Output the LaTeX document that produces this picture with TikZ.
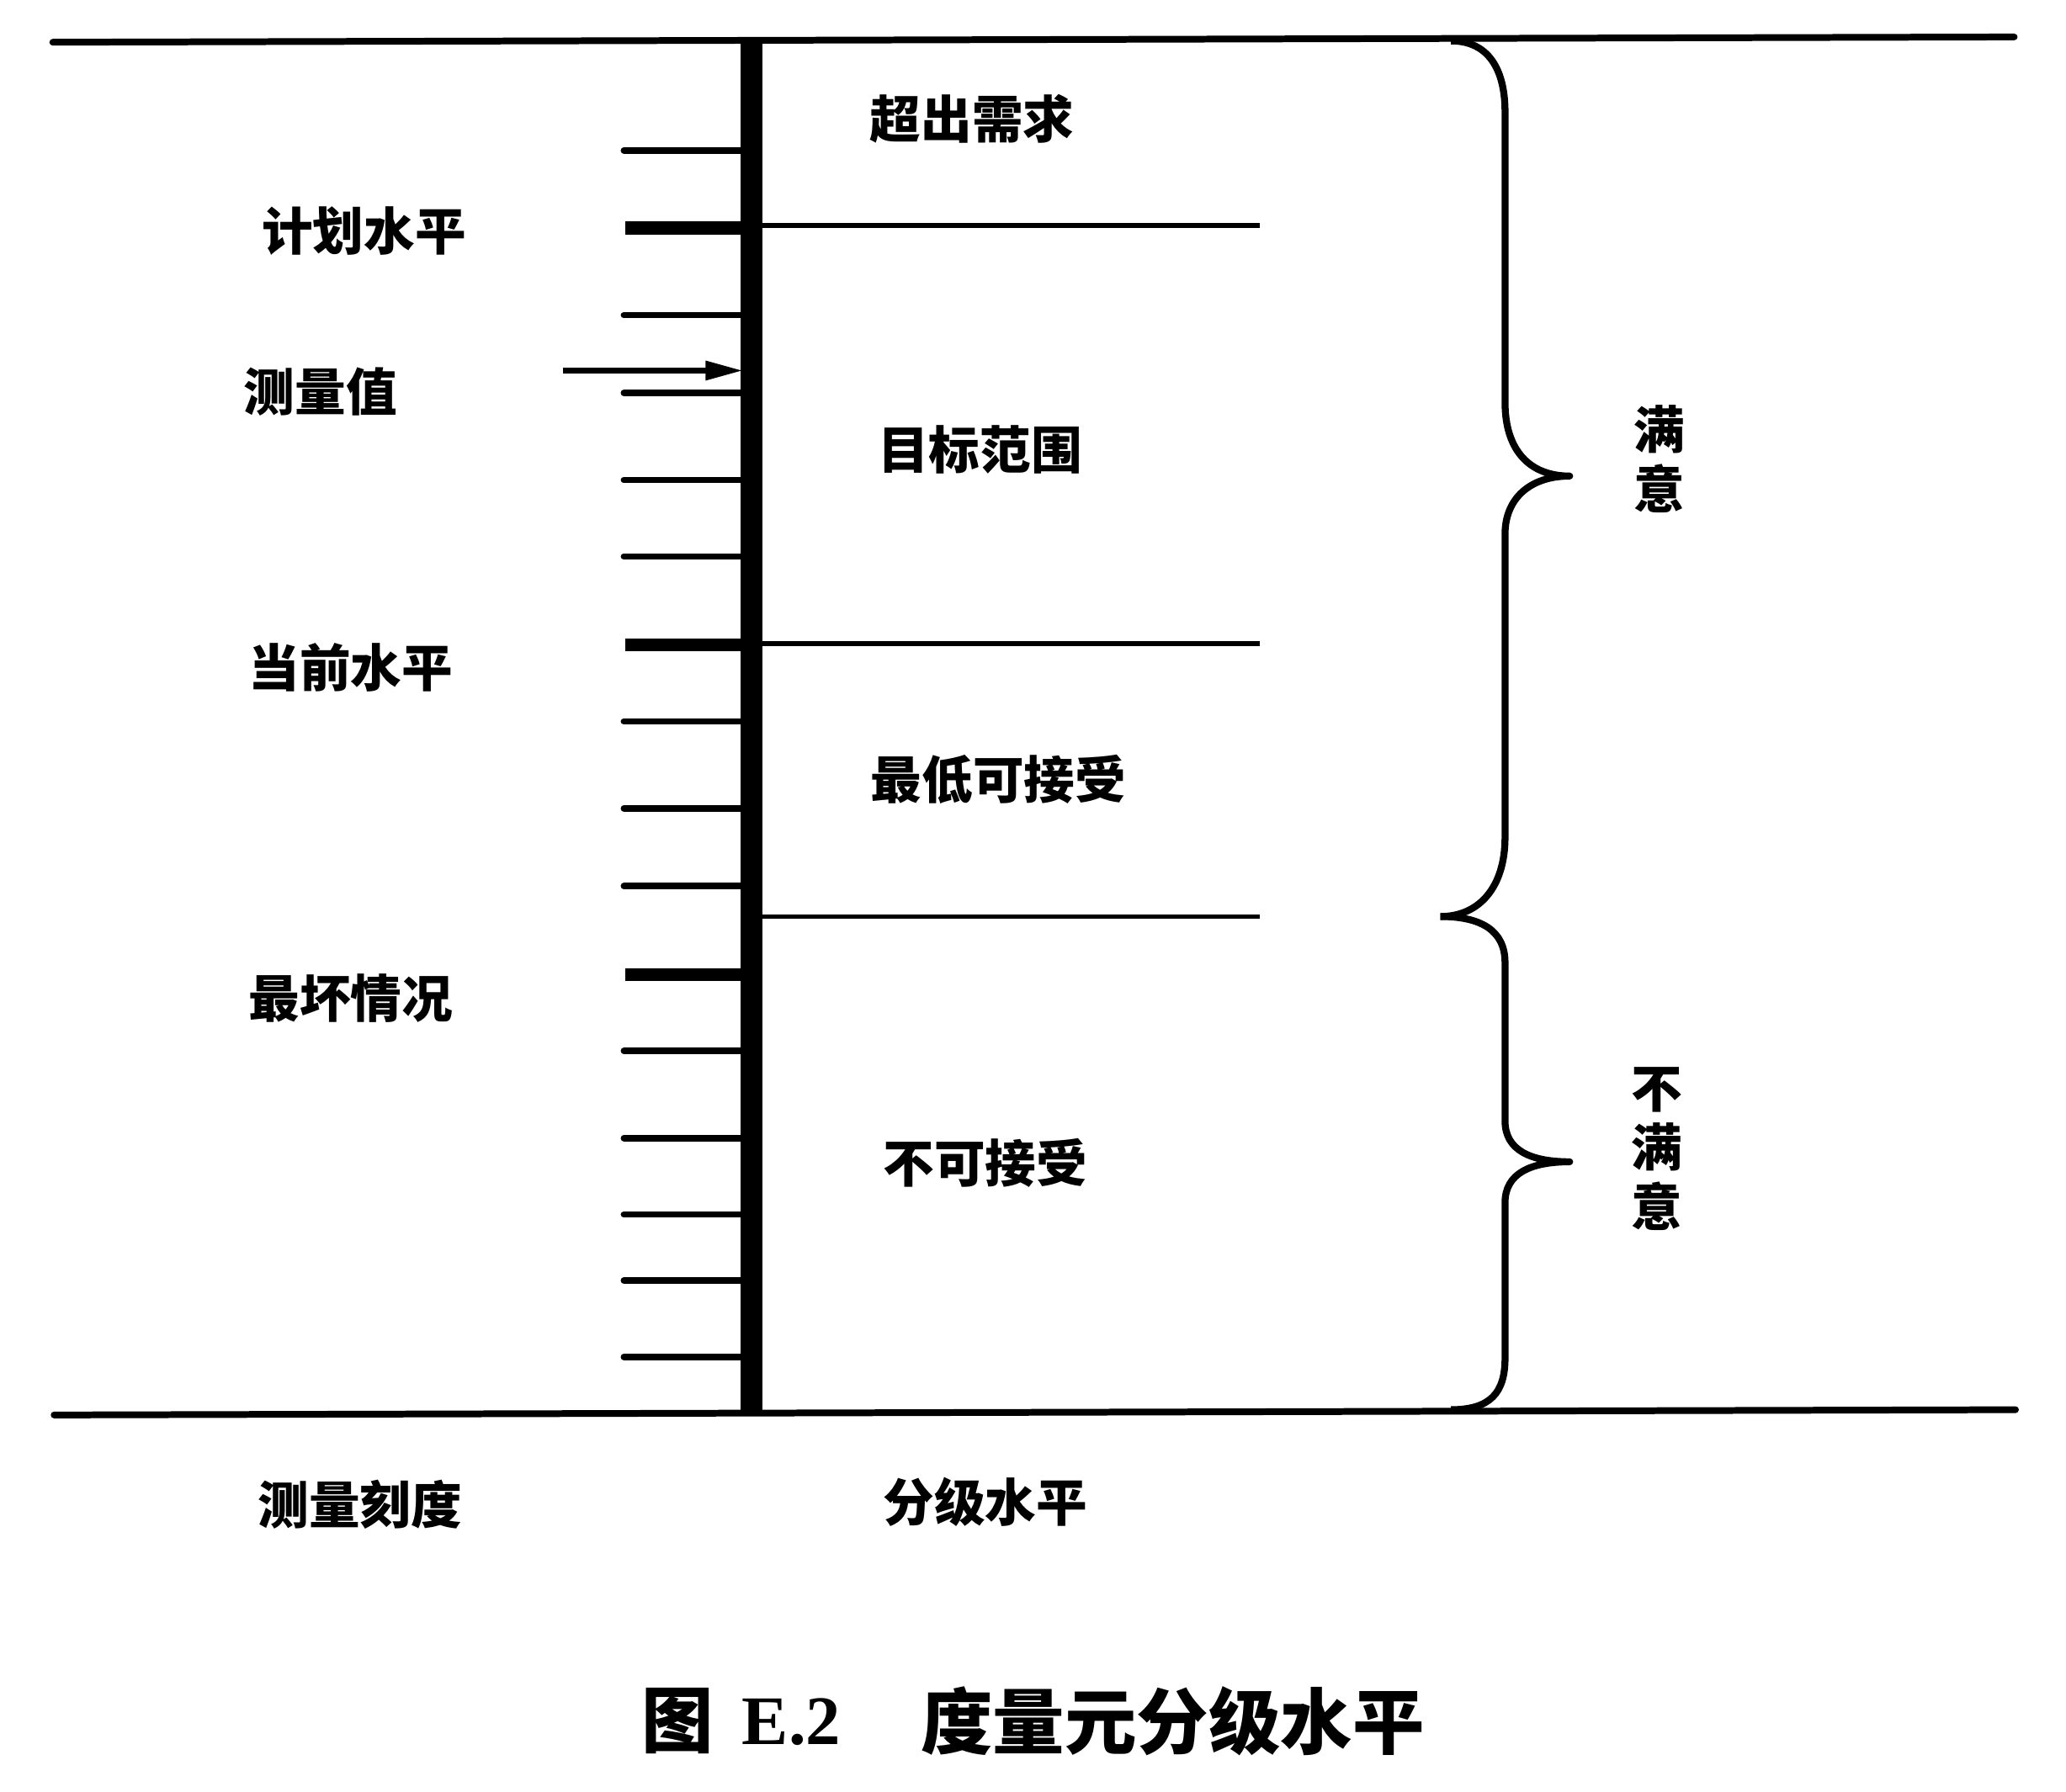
\documentclass[tikz,border=0pt]{standalone}
\usepackage{fontspec}
\setmainfont{Liberation Serif}
\newfontfamily\cjk{Noto Sans CJK SC}
\usetikzlibrary{arrows.meta}
\begin{document}
\begin{tikzpicture}[x=0.01cm,y=-0.01cm,
  lab/.style={font=\cjk\bfseries\fontsize{11}{12.8}\selectfont, inner sep=0pt, align=center},
  caplab/.style={font=\cjk\bfseries\fontsize{15.5}{18}\selectfont, inner sep=0pt},
  captxt/.style={font=\bfseries\fontsize{15}{18}\selectfont, inner sep=0pt},
  minortick/.style={line width=1.4pt, line cap=round},
  majortick/.style={line width=2.8pt},
  rulestyle/.style={line width=1.45pt, line cap=round},
  levelline/.style={line width=1pt},
  barstyle/.style={line width=4.7pt},
  bracestyle/.style={line width=1.5pt, line join=round},
  arrowstyle/.style={line width=1.1pt, -{Triangle[length=8pt,width=4pt]}}]
\useasboundingbox (0,0) rectangle (1566.3,1358.4);

% top and bottom rules
\draw[rulestyle] (40,32) coordinate (tl) -- (1527,28) coordinate (tr);
\draw[rulestyle] (41,1073) coordinate (bl) -- (1528,1069) coordinate (br);

% minor ticks
\foreach \y in {114,239,298,364,422,547,613,672,797,863,921,971,1029}
  \draw[minortick] (473,\y) -- (566,\y);
% major ticks
\foreach \y in {173,489,739}
  \draw[majortick] (474,\y) -- (566,\y);

% vertical bar
\draw[barstyle] (570,31) coordinate (bartop) -- (570,1072) coordinate (barbot);

% level lines
\foreach \y in {171,488,695}
  \draw[levelline] (574,\y) -- (955,\y);

% measured value arrow
\coordinate (arrstart) at (427,281);
\coordinate (arrend) at (563,281);
\draw[arrowstyle] (arrstart) -- (arrend);

% braces
\draw[bracestyle] (1100,31) .. controls (1128,31) and (1141,52) .. (1141,85)
  -- (1141,305) .. controls (1141,342) and (1160,361) .. (1190,361)
  .. controls (1160,361) and (1141,378) .. (1141,405)
  -- (1141,635) .. controls (1141,672) and (1122,695) .. (1092,695);
\draw[bracestyle] (1092,695) .. controls (1122,695) and (1141,705) .. (1141,730)
  -- (1141,850) .. controls (1141,872) and (1160,881) .. (1190,881)
  .. controls (1160,881) and (1141,890) .. (1141,912)
  -- (1141,1030) .. controls (1141,1056) and (1130,1069) .. (1100,1069);

% left labels
\node[lab] (plan) at (276,175) {计划水平};
\node[lab] (meas) at (243,297) {测量值};
\node[lab] (curr) at (266,506) {当前水平};
\node[lab] (worst) at (266,757) {最坏情况};
\node[lab] (scale) at (273,1141) {测量刻度};

% middle labels
\node[lab] (exceed) at (737,90) {超出需求};
\node[lab] (target) at (743,341) {目标范围};
\node[lab] (minacc) at (757,591) {最低可接受};
\node[lab] (unacc) at (747,882) {不可接受};
\node[lab] (grade) at (747,1139) {分级水平};

% right labels
\node[lab] (sat) at (1258,348) {满\\意};
\node[lab] (unsat) at (1256,871) {不\\满\\意};

% caption
\node[caplab] (cap1) at (514,1305) {图};
\node[captxt] (cap2) at (600,1306) {E.2};
\node[caplab] (cap3) at (889,1305) {度量元分级水平};
\end{tikzpicture}
\end{document}
